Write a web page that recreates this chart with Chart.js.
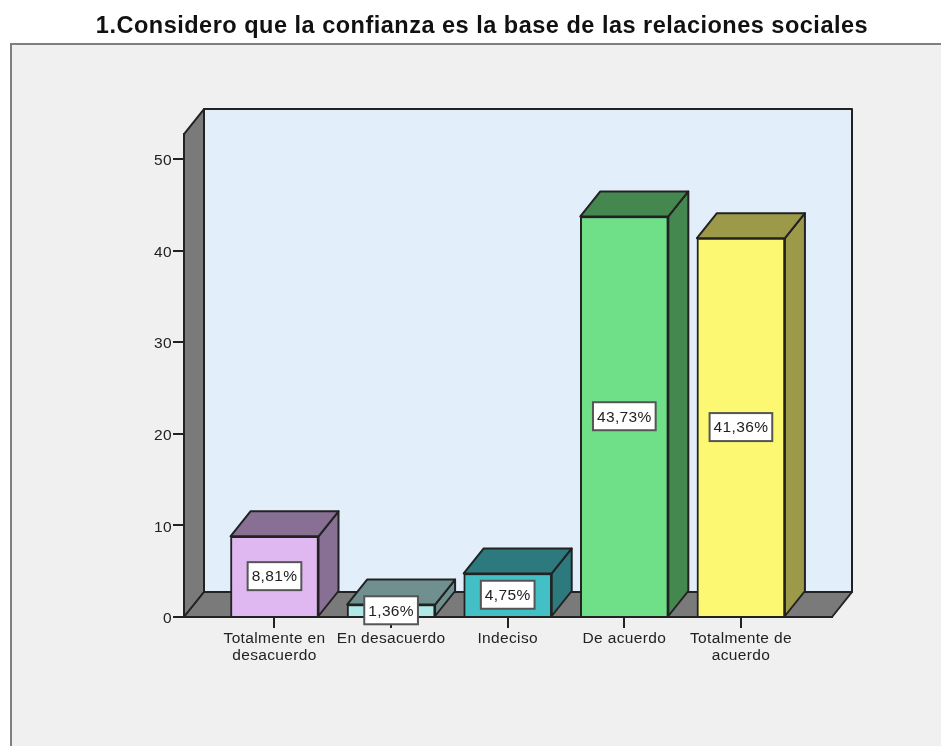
<!DOCTYPE html>
<html><head><meta charset="utf-8">
<style>html,body{margin:0;padding:0;background:#fff}canvas{display:block}</style>
<script src="https://cdn.jsdelivr.net/npm/chart.js@4"></script>
</head><body>
<canvas id="c" width="941" height="746"></canvas>
<script>
const titleText = '1.Considero que la confianza es la base de las relaciones sociales';
const categories = ['Totalmente en desacuerdo','En desacuerdo','Indeciso','De acuerdo','Totalmente de acuerdo'];
const tickLabels = [['Totalmente en','desacuerdo'],['En desacuerdo'],['Indeciso'],['De acuerdo'],['Totalmente de','acuerdo']];
const values = [8.81,1.36,4.75,43.73,41.36];
const valueLabels = ['8,81%','1,36%','4,75%','43,73%','41,36%'];
const yTicks = [0,10,20,30,40,50];
const frontColors = ['#DFB8F1','#B0E8E8','#42C0C6','#70E088','#FDF872'];
const topColors = ['#877094','#709090','#2C7A7E','#448850','#9C9A48'];

const INK = '#222';
const DX = 20, DY = 25;
const TEXT_SPACING = '0.35px', TITLE_SPACING = '0.5px';
function poly(ctx, pts, fill, stroke, lw){
  ctx.beginPath();
  pts.forEach((p,i)=> i ? ctx.lineTo(p[0],p[1]) : ctx.moveTo(p[0],p[1]));
  ctx.closePath();
  if(fill){ctx.fillStyle=fill;ctx.fill();}
  if(stroke){ctx.strokeStyle=stroke;ctx.lineWidth=lw||2;ctx.lineJoin='round';ctx.stroke();}
}
const stage = {
  id:'stage',
  afterLayout(chart){
    const t=chart.titleBlock;
    t.left=23; t.right=941;
    if(!t._spaced){
      const d=t.draw;
      t.draw=function(a){chart.ctx.letterSpacing=TITLE_SPACING;d.call(t,a);chart.ctx.letterSpacing=TEXT_SPACING;};
      t._spaced=true;
    }
  },
  beforeDraw(chart){
    const {ctx,chartArea:a}=chart;
    ctx.letterSpacing=TEXT_SPACING;
    ctx.save();
    ctx.fillStyle='#F0F0F0'; ctx.fillRect(11,44,930,702);
    ctx.fillStyle='#7F7F7F'; ctx.fillRect(10,43,931,2); ctx.fillRect(10,43,2,703);
    poly(ctx,[[a.left+DX,a.top-DY],[a.right+DX,a.top-DY],[a.right+DX,a.bottom-DY],[a.left+DX,a.bottom-DY]],'#E3EEFB',INK,2);
    poly(ctx,[[a.left,a.bottom],[a.left,a.top],[a.left+DX,a.top-DY],[a.left+DX,a.bottom-DY]],'#7A7A7A',INK,2);
    poly(ctx,[[a.left,a.bottom],[a.left+DX,a.bottom-DY],[a.right+DX,a.bottom-DY],[a.right,a.bottom]],'#7A7A7A',INK,2);
    ctx.restore();
  },
  beforeDatasetsDraw(chart){
    const {ctx}=chart;
    ctx.save();
    chart.getDatasetMeta(0).data.forEach((el,i)=>{
      const {x,y,base,width}=el.getProps(['x','y','base','width'],true);
      const l=x-width/2,r=x+width/2;
      poly(ctx,[[r,y],[r+DX,y-DY],[r+DX,base-DY],[r,base]],topColors[i],INK,2);
      poly(ctx,[[l,y],[l+DX,y-DY],[r+DX,y-DY],[r,y]],topColors[i],INK,2);
    });
    ctx.restore();
  },
  afterDatasetsDraw(chart){
    const {ctx}=chart;
    ctx.save();
    ctx.font='15.5px "Liberation Sans"';
    ctx.textAlign='center';ctx.textBaseline='middle';
    chart.getDatasetMeta(0).data.forEach((el,i)=>{
      const {x,y,base}=el.getProps(['x','y','base'],true);
      const cy=(y+base)/2, t=valueLabels[i];
      const w=ctx.measureText(t).width+8, h=28;
      ctx.fillStyle='#fff';ctx.fillRect(x-w/2,cy-h/2,w,h);
      ctx.strokeStyle='#555';ctx.lineWidth=2;ctx.strokeRect(x-w/2,cy-h/2,w,h);
      ctx.fillStyle=INK;ctx.fillText(t,x,cy+1);
    });
    ctx.restore();
  }
};
new Chart(document.getElementById('c'),{
  type:'bar',
  data:{labels:categories,datasets:[{
    label:'Porcentaje',
    data:values.map((v,i)=>({x:i,y:v})),
    backgroundColor:frontColors,borderColor:INK,borderWidth:2,barThickness:88
  }]},
  plugins:[stage],
  options:{
    responsive:false,animation:false,
    layout:{padding:{left:132,right:109,top:0,bottom:0}},
    plugins:{
      legend:{display:false},tooltip:{enabled:false},
      title:{display:true,text:titleText,color:'#111',
        font:{family:'"Liberation Sans"',size:23.5,weight:'bold',lineHeight:1.15},
        padding:{top:13,bottom:94}}
    },
    scales:{
      x:{type:'linear',min:-0.776,max:4.781,offset:false,
        afterBuildTicks(s){s.ticks=categories.map((_,i)=>({value:i}));},
        afterFit(s){s.height=129;},
        grid:{offset:false,drawOnChartArea:false,drawTicks:true,tickLength:11,tickColor:INK,lineWidth:2},
        border:{color:INK,width:2},
        ticks:{autoSkip:false,maxRotation:0,minRotation:0,padding:2,color:INK,
          callback:v=>tickLabels[v],
          font:{family:'"Liberation Sans"',size:15.5,lineHeight:1.1}}
      },
      y:{min:0,max:52.73,
        afterBuildTicks(s){s.ticks=yTicks.map(v=>({value:v}));},
        afterFit(s){s.width=52;},
        grid:{drawOnChartArea:false,drawTicks:true,tickLength:11,tickColor:INK,lineWidth:2},
        border:{color:INK,width:2},
        ticks:{padding:1,labelOffset:2,color:INK,font:{family:'"Liberation Sans"',size:15.5}}
      }
    }
  }
});
</script>
</body></html>
